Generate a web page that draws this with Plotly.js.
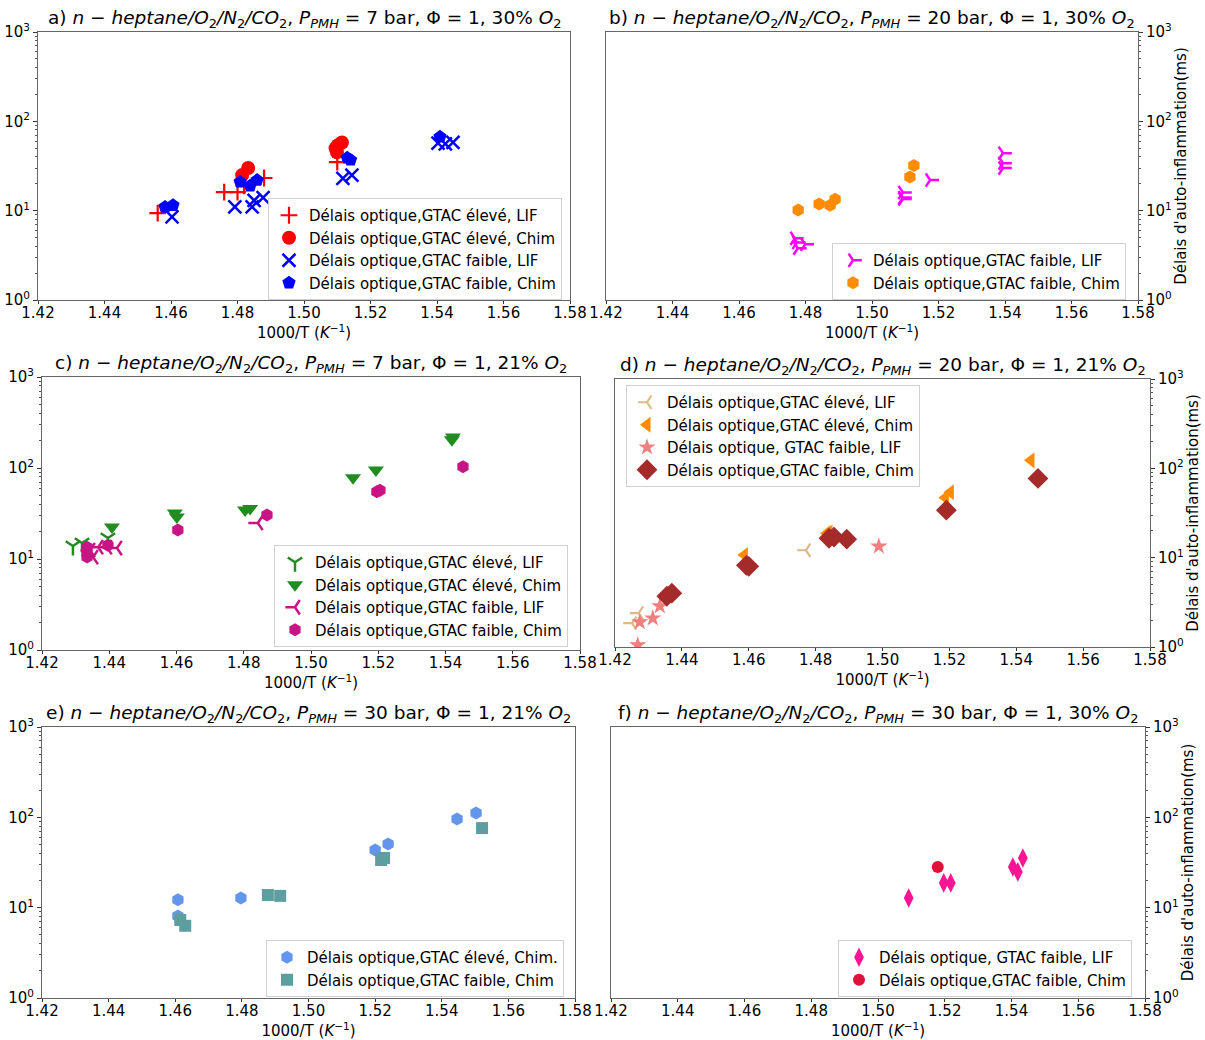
<!DOCTYPE html>
<html><head><meta charset="utf-8">
<script src="https://cdn.plot.ly/plotly-3.0.1.min.js"></script>
<style>body{margin:0;background:#fff}#chart{width:1205px;height:1040px}</style>
</head><body><div id="chart"></div>
<script>
// ---- Data (x = 1000/T in K^-1, y = ignition delay in ms) ----
// Panel a
const aLifHiX = [1.456, 1.476, 1.480, 1.482, 1.488, 1.510];
const aLifHiY = [9.4, 16.1, 16.1, 19, 23.2, 35];
const aChimHiX = [1.4814, 1.4832, 1.5095, 1.5099, 1.5102, 1.5114];
const aChimHiY = [25, 30, 50, 45, 54, 58];
const aLifLoX = [1.4603, 1.4792, 1.4844, 1.485, 1.4877, 1.5117, 1.5144, 1.5403, 1.5425, 1.5448];
const aLifLoY = [8.5, 11, 11, 13, 14, 23, 25, 57, 56, 58];
const aChimLoX = [1.4582, 1.4606, 1.4808, 1.4838, 1.4859, 1.513, 1.514, 1.5409];
const aChimLoY = [11, 11.5, 21, 19, 22, 39, 37, 67];
// Panel b
const bLifLoX = [1.4768, 1.4774, 1.4799, 1.4777, 1.5093, 1.5093, 1.5093, 1.5175, 1.5394, 1.5394, 1.5394];
const bLifLoY = [4.9, 4.4, 4.2, 3.8, 16, 14, 13.5, 22, 44, 34, 30];
const bChimLoX = [1.4778, 1.4841, 1.4874, 1.4889, 1.5114, 1.5126];
const bChimLoY = [10.2, 11.9, 11.5, 13.4, 23.8, 32];
// Panel c
const cLifHiX = [1.4292, 1.4319, 1.4396];
const cLifHiY = [13.9, 15, 17];
const cChimHiX = [1.4408, 1.4595, 1.4601, 1.4804, 1.4819, 1.5125, 1.5193, 1.5419, 1.5422];
const cChimHiY = [22.5, 32, 29, 34.5, 36, 78, 95, 205, 219];
const cLifLoX = [1.4343, 1.4367, 1.4352, 1.4423, 1.4393, 1.4842];
const cLifLoY = [12.5, 13.5, 10.5, 13.2, 13.5, 24.9];
const cChimLoX = [1.4334, 1.4334, 1.4334, 1.4396, 1.4604, 1.4869, 1.5196, 1.5205, 1.5452];
const cChimLoY = [13.5, 11.6, 10.5, 14.2, 20.8, 30.5, 55, 57, 103];
// Panel d
const dLifHiX = [1.4251, 1.4271, 1.4771, 1.488];
const dLifHiY = [1.85, 2.4, 12.1, 15.5];
const dChimHiX = [1.4587, 1.4834, 1.4840, 1.5188, 1.5203, 1.5444];
const dChimHiY = [10.7, 18.8, 19, 47, 54, 123];
const dLifLoX = [1.4268, 1.4274, 1.4313, 1.4334, 1.4989];
const dLifLoY = [1.05, 1.9, 2.1, 2.87, 13.4];
const dChimLoX = [1.4355, 1.4370, 1.4593, 1.4600, 1.4840, 1.4855, 1.4893, 1.5191, 1.5465];
const dChimLoY = [3.7, 4.0, 8.2, 8.0, 16.5, 17, 16.1, 34, 77];
// Panel e
const eChimHiX = [1.4608, 1.4608, 1.4797, 1.5200, 1.5239, 1.5446, 1.5503];
const eChimHiY = [12.2, 8.1, 12.8, 43.5, 50.7, 96, 112];
const eChimLoX = [1.4615, 1.4630, 1.4878, 1.4915, 1.5218, 1.5227, 1.5521];
const eChimLoY = [7.3, 6.3, 13.8, 13.5, 33.7, 35.5, 76];
// Panel f
const fLifLoX = [1.5092, 1.5197, 1.5218, 1.5404, 1.5419, 1.5434];
const fLifLoY = [12.8, 18.8, 18.8, 28.2, 24.9, 35.5];
const fChimLoX = [1.5179];
const fChimLoY = [28.2];

// Axis ticks
const xTicks = [1.42, 1.44, 1.46, 1.48, 1.50, 1.52, 1.54, 1.56, 1.58];
const xTickText = ['1.42', '1.44', '1.46', '1.48', '1.50', '1.52', '1.54', '1.56', '1.58'];
const yTicks = [1, 10, 100, 1000];
const yTickText = ['10<sup>0</sup>', '10<sup>1</sup>', '10<sup>2</sup>', '10<sup>3</sup>'];
const yMinorTicks = [2, 3, 4, 5, 6, 7, 8, 9, 20, 30, 40, 50, 60, 70, 80, 90, 200, 300, 400, 500, 600, 700, 800, 900];

const titles = [
  'a) <i>n − heptane/O</i><sub>2</sub><i>/N</i><sub>2</sub><i>/CO</i><sub>2</sub>, <i>P</i><sub><i>PMH</i></sub> = 7 bar, Φ = 1, 30% <i>O</i><sub>2</sub>',
  'b) <i>n − heptane/O</i><sub>2</sub><i>/N</i><sub>2</sub><i>/CO</i><sub>2</sub>, <i>P</i><sub><i>PMH</i></sub> = 20 bar, Φ = 1, 30% <i>O</i><sub>2</sub>',
  'c) <i>n − heptane/O</i><sub>2</sub><i>/N</i><sub>2</sub><i>/CO</i><sub>2</sub>, <i>P</i><sub><i>PMH</i></sub> = 7 bar, Φ = 1, 21% <i>O</i><sub>2</sub>',
  'd) <i>n − heptane/O</i><sub>2</sub><i>/N</i><sub>2</sub><i>/CO</i><sub>2</sub>, <i>P</i><sub><i>PMH</i></sub> = 20 bar, Φ = 1, 21% <i>O</i><sub>2</sub>',
  'e) <i>n − heptane/O</i><sub>2</sub><i>/N</i><sub>2</sub><i>/CO</i><sub>2</sub>, <i>P</i><sub><i>PMH</i></sub> = 30 bar, Φ = 1, 21% <i>O</i><sub>2</sub>',
  'f) <i>n − heptane/O</i><sub>2</sub><i>/N</i><sub>2</sub><i>/CO</i><sub>2</sub>, <i>P</i><sub><i>PMH</i></sub> = 30 bar, Φ = 1, 30% <i>O</i><sub>2</sub>'
];
const xTitle = '1000/T (<i>K</i><sup>−1</sup>)';
const yTitle = "Délais d'auto-inflammation(ms)";

const W = 1205, H = 1040;
// panel boxes in pixels [x0, x1, y0(top), y1(bottom)]
const boxes = [
  [38, 570, 32, 300],
  [606, 1138, 32, 300],
  [42, 580, 377, 650],
  [615, 1150, 379, 647],
  [42, 575, 727, 998],
  [611, 1145, 727, 998]
];
// legend top-left corners in pixels
const legPos = [[268, 198], [832, 243], [274, 545], [626, 385], [266, 940], [838, 940]];

function tr(x, y, name, panel, symbol, color, size, lineMarker, lw) {
  const idx = panel + 1;
  const m = {symbol: symbol, size: size, color: color};
  if (lineMarker) m.line = {color: color, width: lw || 2};
  return {
    type: 'scatter', mode: 'markers', x: x, y: y, name: name,
    xaxis: 'x' + (idx === 1 ? '' : idx), yaxis: 'y' + (idx === 1 ? '' : idx),
    legend: 'legend' + (idx === 1 ? '' : idx),
    marker: m, cliponaxis: true
  };
}

const data = [
  tr(aLifHiX, aLifHiY, 'Délais optique,GTAC élevé, LIF', 0, 'cross-thin', '#ff0000', 12, true, 2.2),
  tr(aChimHiX, aChimHiY, 'Délais optique,GTAC élevé, Chim', 0, 'circle', '#ff0000', 14),
  tr(aLifLoX, aLifLoY, 'Délais optique,GTAC faible, LIF', 0, 'x-thin', '#0000ff', 13, true, 2.5),
  tr(aChimLoX, aChimLoY, 'Délais optique,GTAC faible, Chim', 0, 'pentagon', '#0000ff', 14),

  tr(bLifLoX, bLifLoY, 'Délais optique,GTAC faible, LIF', 1, 'y-right', '#ff00ff', 11, true, 2.5),
  tr(bChimLoX, bChimLoY, 'Délais optique,GTAC faible, Chim', 1, 'hexagon', '#ff8c00', 13),

  tr(cLifHiX, cLifHiY, 'Délais optique,GTAC élevé, LIF', 2, 'y-down', '#228b22', 12, true, 2.5),
  tr(cChimHiX, cChimHiY, 'Délais optique,GTAC élevé, Chim', 2, 'triangle-down', '#228b22', 14),
  tr(cLifLoX, cLifLoY, 'Délais optique,GTAC faible, LIF', 2, 'y-left', '#c71585', 12, true, 2.5),
  tr(cChimLoX, cChimLoY, 'Délais optique,GTAC faible, Chim', 2, 'hexagon', '#c71585', 13),

  tr(dLifHiX, dLifHiY, 'Délais optique,GTAC élevé, LIF', 3, 'y-left', '#deb887', 11, true, 2.2),
  tr(dChimHiX, dChimHiY, 'Délais optique,GTAC élevé, Chim', 3, 'triangle-left', '#ff8c00', 14),
  tr(dLifLoX, dLifLoY, 'Délais optique, GTAC faible, LIF', 3, 'star', '#f08080', 13),
  tr(dChimLoX, dChimLoY, 'Délais optique,GTAC faible, Chim', 3, 'diamond', '#a52a2a', 16),

  tr(eChimHiX, eChimHiY, 'Délais optique,GTAC élevé, Chim.', 4, 'hexagon', '#6495ed', 13),
  tr(eChimLoX, eChimLoY, 'Délais optique,GTAC faible, Chim', 4, 'square', '#5f9ea0', 12),

  tr(fLifLoX, fLifLoY, 'Délais optique, GTAC faible, LIF', 5, 'diamond-tall', '#ff1493', 14),
  tr(fChimLoX, fChimLoY, 'Délais optique,GTAC faible, Chim', 5, 'circle', '#dc143c', 12)
];

const font = {family: 'DejaVu Sans, sans-serif', size: 15, color: '#000'};
const layout = {
  width: W, height: H, margin: {l: 0, r: 0, t: 0, b: 0},
  paper_bgcolor: '#fff', plot_bgcolor: '#fff', font: font,
  showlegend: true, annotations: []
};

boxes.forEach((b, i) => {
  const idx = i + 1, s = idx === 1 ? '' : String(idx);
  const right = (i % 2 === 1);
  layout['xaxis' + s] = {
    domain: [b[0] / W, b[1] / W], anchor: 'y' + s,
    range: [1.42, 1.58], tickvals: xTicks, ticktext: xTickText,
    showgrid: false, zeroline: false, showline: true, mirror: true,
    linecolor: '#666', linewidth: 1, ticks: 'outside', ticklen: 3, tickcolor: '#333',
    ticklabelstandoff: -4,
    tickfont: {size: 15}, title: {text: xTitle, font: {size: 15}, standoff: 0}
  };
  layout['yaxis' + s] = {
    domain: [1 - b[3] / H, 1 - b[2] / H], anchor: 'x' + s,
    type: 'log', range: [0, 3], tickvals: yTicks, ticktext: yTickText,
    side: right ? 'right' : 'left',
    showgrid: false, zeroline: false, showline: true, mirror: true,
    linecolor: '#666', linewidth: 1, ticks: 'outside', ticklen: 4, tickcolor: '#333',
    tickfont: {size: 15},
    minor: {tickmode: 'array', tickvals: yMinorTicks, ticks: 'outside', ticklen: 2, tickcolor: '#555', showgrid: false},
    title: right ? {text: yTitle, font: {size: 15}, standoff: 4} : {text: ''}
  };
  layout.annotations.push({
    xref: 'x' + s + ' domain', yref: 'y' + s + ' domain', x: 0.5, y: 1,
    xanchor: 'center', yanchor: 'bottom', yshift: -1, showarrow: false,
    text: titles[i], font: {size: 18.5}
  });
  const lp = legPos[i];
  layout['legend' + s] = {
    x: lp[0] / W, y: 1 - lp[1] / H, xanchor: 'left', yanchor: 'top',
    xref: 'paper', yref: 'paper',
    bgcolor: 'rgba(255,255,255,0.9)', bordercolor: '#d0d0d0', borderwidth: 1,
    font: {size: 15}, tracegroupgap: 0, itemsizing: 'trace'
  };
});

Plotly.newPlot('chart', data, layout, {displayModeBar: false, staticPlot: true});
</script></body></html>
